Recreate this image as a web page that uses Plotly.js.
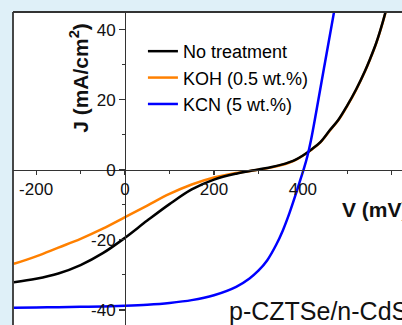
<!DOCTYPE html>
<html>
<head>
<meta charset="utf-8">
<script src="https://cdn.plot.ly/plotly-3.0.1.min.js"></script>
<style>
html,body{margin:0;padding:0;background:#dff0f8;}
#chart{width:402px;height:325px;}
</style>
</head>
<body>
<div id="chart"></div>
<script>
// Voltage (mV) and current density (mA/cm2)
var vBlack = [-250,-200,-150,-100,-50,0,50,100,150,200,250,300,330,350,370,385,400,420,440,460,480,500,520,540,550,565,580,595];
var jBlack = [-32.1,-31.1,-29.6,-27.2,-23.8,-19.4,-14.5,-9.8,-5.6,-2.8,-1.1,0.1,0.8,1.4,2.2,3.0,4.1,5.9,8.0,11.2,14.3,18.4,23.0,28.3,31.3,36.2,42.3,49.5];

var vOrange = [-250,-200,-150,-100,-50,0,50,100,150,200,250,300,330,350,370,385,400,420,440,460,480,500,520,540,550,565,580,595];
var jOrange = [-26.8,-24.7,-22.2,-19.7,-16.8,-13.5,-10.2,-6.9,-4.2,-2.2,-0.9,0.0,0.7,1.3,2.1,2.9,4.0,5.8,7.9,11.1,14.2,18.3,22.9,28.2,31.2,36.1,42.2,49.4];

var vBlue = [-250,-200,-150,-100,-50,0,50,100,150,200,250,280,300,320,340,355,370,385,395,403,410,418,430,450,475];
var jBlue = [-39.4,-39.3,-39.2,-39.1,-39.0,-38.8,-38.5,-38.0,-37.2,-35.8,-33.4,-31.0,-28.8,-25.8,-21.4,-17.3,-12.3,-6.6,-2.6,0.6,3.8,8.3,16.5,30.8,48.5];

var names = ['No treatment','KOH (0.5 wt.%)','KCN (5 wt.%)'];
var colors = ['#000000','#ff8000','#0000ff'];

var xTicks = [-200,0,200,400,600];
var yTicks = [-40,-20,0,20,40];

var xRange = [-252, 623];
var yRange = [-44.3, 45.05];
var xPos = (0 - xRange[0])/(xRange[1]-xRange[0]);
var yPos = (0 - yRange[0])/(yRange[1]-yRange[0]);

var font = 'Liberation Sans, Arial, sans-serif';

var traces = [
  {x:vOrange, y:jOrange, name:names[1], legendrank:2, mode:'lines', line:{color:colors[1], width:2.5, shape:'spline', smoothing:1}},
  {x:vBlack, y:jBlack, name:names[0], legendrank:1, mode:'lines', line:{color:colors[0], width:2.5, shape:'spline', smoothing:1}},
  {x:vBlue, y:jBlue, name:names[2], legendrank:3, mode:'lines', line:{color:colors[2], width:2.5, shape:'spline', smoothing:1}}
];

var layout = {
  width:402, height:325,
  margin:{l:13, r:0, t:11.5, b:0, pad:0},
  paper_bgcolor:'#dff0f8',
  plot_bgcolor:'#ffffff',
  font:{family:font, color:'#111111'},
  showlegend:true,
  legend:{x:0.334, y:0.933, xanchor:'left', yanchor:'top', bgcolor:'rgba(0,0,0,0)',
          font:{size:18, family:font, color:'#000'}, tracegroupgap:0},
  xaxis:{range:xRange, anchor:'free', position:yPos, showgrid:false, zeroline:false,
         showline:true, linecolor:'#333', linewidth:1.2,
         tickmode:'array', tickvals:xTicks, ticktext:xTicks.map(String),
         ticks:'outside', ticklen:4, tickcolor:'#333', tickwidth:1.2,
         minor:{dtick:100, tick0:0, ticks:'outside', ticklen:3, tickcolor:'#333', tickwidth:1},
         tickfont:{size:17, family:font, color:'#111'}},
  yaxis:{range:yRange, anchor:'free', position:xPos, showgrid:false, zeroline:false,
         showline:true, linecolor:'#333', linewidth:1.2,
         tickmode:'array', tickvals:yTicks, ticktext:yTicks.map(String),
         ticks:'outside', ticklen:6, tickcolor:'#333', tickwidth:1.2,
         minor:{dtick:10, tick0:0, ticks:'outside', ticklen:3, tickcolor:'#333', tickwidth:1},
         tickfont:{size:17, family:font, color:'#111'}},
  shapes:[
    {type:'line', xref:'paper', yref:'paper', x0:0, x1:1, y0:1, y1:1, line:{color:'#333', width:1.8}},
    {type:'line', xref:'paper', yref:'paper', x0:0, x1:0, y0:0, y1:1, line:{color:'#333', width:1.8}}
  ],
  annotations:[
    {text:'<b>J (mA/cm<sup>2</sup>)</b>', xref:'x', yref:'y', x:-104, y:26.2, textangle:-90,
     showarrow:false, xanchor:'center', yanchor:'middle', font:{size:21, family:font, color:'#111'}},
    {text:'<b>V (mV)</b>', xref:'x', yref:'y', x:484, y:-11.2, showarrow:false,
     xanchor:'left', yanchor:'middle', font:{size:21, family:font, color:'#111'}},
    {text:'p-CZTSe/n-CdS', xref:'x', yref:'y', x:230, y:-40.4, showarrow:false,
     xanchor:'left', yanchor:'middle', font:{size:25, family:font, color:'#111'}}
  ]
};

Plotly.newPlot('chart', traces, layout, {staticPlot:true, displayModeBar:false});
</script>
</body>
</html>
